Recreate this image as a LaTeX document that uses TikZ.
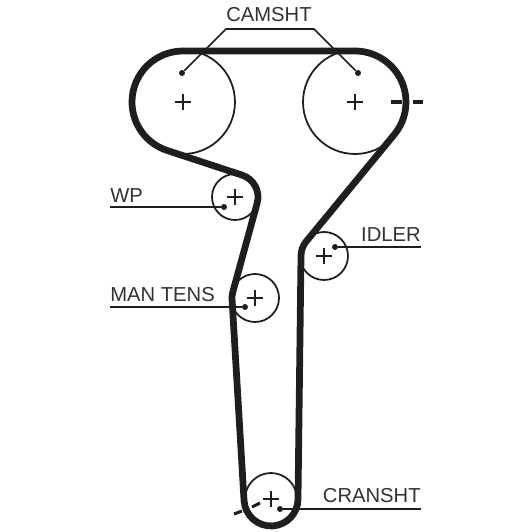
\documentclass[tikz,border=0pt]{standalone}
\usepackage{fontspec}
\setmainfont{Liberation Sans}
\usepackage{xcolor}
\usetikzlibrary{calc, positioning}
\definecolor{beltcolor}{RGB}{30, 30, 30}
\definecolor{tagcolor}{RGB}{50, 50, 50}

\begin{document}
\begin{tikzpicture}[
    x = 0.02cm, y = 0.02cm,
    pulley/.style = {draw=beltcolor, circle, line width=1pt, inner sep=0pt, outer sep=0pt,
                     path picture={\draw[line width=1pt, color=beltcolor]
                       ($(path picture bounding box.center)+(-8,0)$) -- ++(16,0)
                       ($(path picture bounding box.center)+(0,-8)$) -- ++(0,16);}},
    belt/.style   = {line width=0.135cm, color=beltcolor, line join=round},
    leader/.style = {line width=1pt, color=beltcolor},
    tick/.style   = {line width=2.2pt, color=beltcolor},
    tag/.style    = {inner sep=0pt, color=tagcolor, font=\fontsize{11.5}{14}\selectfont},
    pin/.style    = {circle, fill=beltcolor, inner sep=0pt, minimum size=3.4pt},
  ]
  \useasboundingbox (0,0) rectangle (532,532);

  \node[pulley, minimum size=2.08cm] (camleft)  at (183,430) {};
  \node[pulley, minimum size=2.08cm] (camright) at (355,430) {};
  \node[pulley, minimum size=0.92cm] (wp)       at (235,335) {};
  \node[pulley, minimum size=0.96cm] (mantens)  at (255,234) {};
  \node[pulley, minimum size=0.96cm] (idler)    at (324,276) {};
  \node[pulley, minimum size=1.04cm] (cranksh)  at (271,33)  {};

  \draw[belt] ($(camleft)+(90:51)$) arc[start angle=90, end angle=251.8, radius=51]
    -- ($(wp)+(71.8:23)$) arc[start angle=71.8, end angle=-15.3, radius=23]
    -- ($(mantens)+(164.7:23)$) arc[start angle=164.7, end angle=183.5, radius=23]
    -- ($(cranksh)+(183.5:27)$) arc[start angle=183.5, end angle=359.3, radius=27]
    -- ($(idler)+(179.3:23)$) arc[start angle=179.3, end angle=140.5, radius=23]
    -- ($(camright)+(-39.5:51)$) arc[start angle=-39.5, end angle=90, radius=51]
    -- cycle;

  % timing marks
  \coordinate (markA) at (391,430);
  \coordinate (markB) at (402,430);
  \coordinate (markC) at (413,430);
  \coordinate (markD) at (423,430);
  \draw[tick] (markA) -- (markB);
  \draw[tick] (markC) -- (markD);
  \coordinate (markE) at (234,18);
  \coordinate (markF) at (242,21);
  \coordinate (markG) at (252,25);
  \coordinate (markH) at (260,29);
  \draw[tick, line width=1.7pt] (markE) -- (markF);
  \draw[tick, line width=1.7pt] (markG) -- (markH);

  % labels
  \node[tag] (camtag) at (269,517) {CAMSHT};
  \node[tag, anchor=west] (wptag) at (110,336) {WP};
  \node[tag, anchor=west] (mantag) at (110,237) {MAN TENS};
  \node[tag, anchor=east] (idlertag) at (421,297) {IDLER};
  \node[tag, anchor=east] (cranktag) at (421,36) {CRANSHT};

  \node[pin] (camleftpin)  at (182,459) {};
  \node[pin] (camrightpin) at (358,459) {};
  \node[pin] (wppin)       at (224,325) {};
  \node[pin] (manpin)      at (245,225) {};
  \node[pin] (idlerpin)    at (335,285) {};
  \node[pin] (crankpin)    at (280,23)  {};

  \coordinate (camkneeL) at (226,503);
  \coordinate (camkneeR) at (314,503);
  \coordinate (wpend)    at (110,325);
  \coordinate (manend)   at (110,225);
  \coordinate (idlerend) at (421,285);
  \coordinate (crankend) at (421,23);

  \draw[leader] (camleftpin) -- (camkneeL) -- (camkneeR) -- (camrightpin);
  \draw[leader] (wppin)    -- (wpend);
  \draw[leader] (manpin)   -- (manend);
  \draw[leader] (idlerpin) -- (idlerend);
  \draw[leader] (crankpin) -- (crankend);
\end{tikzpicture}
\end{document}
